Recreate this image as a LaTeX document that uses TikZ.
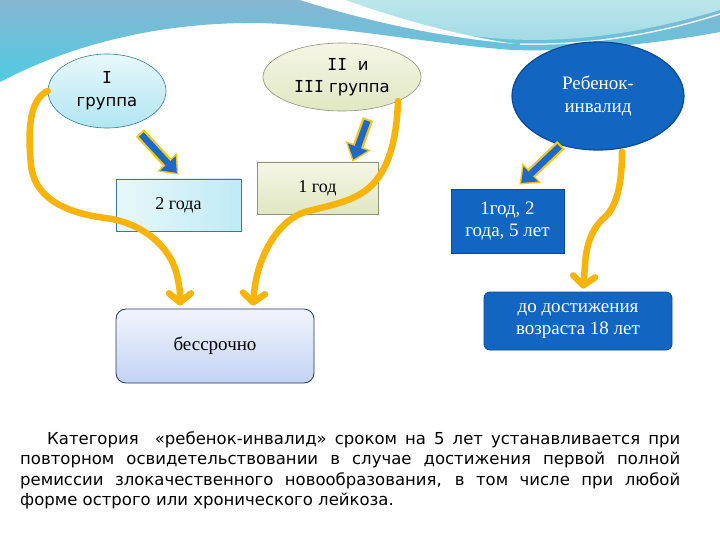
\documentclass[tikz,border=0pt]{standalone}
\usepackage{fontspec}
\setmainfont{Liberation Serif}
\newfontfamily\cfam{DejaVu Sans}
\newfontfamily\mfam{DejaVu Sans Mono}
\usetikzlibrary{shapes.geometric,arrows.meta,calc}
\definecolor{bandtop}{HTML}{86B6D2}
\definecolor{bandbot}{HTML}{4FCBE2}
\definecolor{bulgetop}{HTML}{BBE7EC}
\definecolor{bulgebot}{HTML}{A0D9E4}
\definecolor{gold}{HTML}{F7B40A}
\definecolor{arrblue}{HTML}{1E68C8}
\definecolor{arrgold}{HTML}{F6C61A}
\definecolor{dblue}{HTML}{1266C1}
\definecolor{dblueline}{HTML}{0B4A94}
\definecolor{cyanline}{HTML}{2F7F98}
\definecolor{cyantop}{HTML}{E8F8FB}
\definecolor{cyanbot}{HTML}{B0E5F2}
\definecolor{olivetop}{HTML}{F5F6E6}
\definecolor{olivebot}{HTML}{E0E7C2}
\definecolor{oliveline}{HTML}{8E9276}
\definecolor{lavtop}{HTML}{F1F4FC}
\definecolor{lavbot}{HTML}{C3D3F4}
\definecolor{navyline}{HTML}{26385A}
\begin{document}
\begin{tikzpicture}[x=1pt,y=-1pt,
  ellI/.style={ellipse, draw=cyanline, line width=0.6pt, top color=cyantop, bottom color=cyanbot,
    minimum width=118pt, minimum height=74pt, inner sep=0pt, align=center,
    font=\cfam\fontsize{16.5}{23}\selectfont},
  ellII/.style={ellipse, draw=oliveline, line width=0.6pt, top color=olivetop, bottom color=olivebot,
    minimum width=158pt, minimum height=68pt, inner sep=0pt, align=center,
    font=\cfam\fontsize{16.5}{22}\selectfont},
  ellR/.style={ellipse, draw=dblueline, line width=1.2pt, fill=dblue,
    minimum width=172pt, minimum height=108pt, inner sep=0pt, align=center, text=white,
    font=\fontsize{19}{23}\selectfont},
  boxcyan/.style={rectangle, draw=cyanline, line width=0.6pt, left color=cyantop, right color=cyanbot!80,
    minimum width=125pt, minimum height=52pt, inner sep=0pt, font=\fontsize{18}{21}\selectfont},
  boxolive/.style={rectangle, draw=oliveline, line width=0.6pt, top color=olivetop, bottom color=olivebot,
    minimum width=121pt, minimum height=52pt, inner sep=0pt, font=\fontsize{18}{21}\selectfont},
  boxblue/.style={rectangle, draw=dblueline, line width=0.8pt, fill=dblue, text=white, align=center,
    inner sep=0pt, font=\fontsize{19}{22}\selectfont},
  boxlav/.style={rectangle, rounded corners=10pt, draw=navyline, line width=0.8pt, top color=lavtop, bottom color=lavbot,
    minimum width=198pt, minimum height=74pt, inner sep=0pt, font=\fontsize{19}{22}\selectfont},
  para/.style={inner sep=0pt, align=left, font=\cfam\fontsize{16.5}{20.6}\selectfont},
  blockback/.style={draw=arrgold, line width=11pt, -{Triangle[length=17pt,width=27pt,line width=0pt]}},
  blockfront/.style={draw=arrblue, line width=6.5pt, shorten >=2.5pt, shorten <=2pt,
    -{Triangle[length=13pt,width=21pt,line width=0pt]}},
  conn/.style={draw=gold, line width=6.5pt, line cap=round, line join=round,
    -{Straight Barb[length=9pt,width=22pt,round]}}
]
\useasboundingbox (0,0) rectangle (720,540);
\fill[white] (0,0) rectangle (720,540);
% banner
\shade[top color=bandtop, bottom color=bandbot]
  (0,0) -- (720,0) -- (720,32) .. controls (650,45) and (570,52) .. (513,50)
  .. controls (440,45) and (330,25) .. (260,23) .. controls (170,22) and (80,40) .. (0,82) -- cycle;
\shade[top color=bulgetop, bottom color=bulgebot]
  (330,0) .. controls (380,20) and (440,35) .. (505,39) .. controls (585,44) and (660,28) .. (720,10) -- (720,0) -- cycle;
\fill[white] (300,0) .. controls (380,25) and (450,38) .. (515,44) .. controls (450,34) and (390,16) .. (345,0) -- cycle;
\draw[white, line width=1.5pt, opacity=0.8] (520,44) .. controls (600,46) and (670,30) .. (720,14);

% nodes
\node[ellI] (g1) at (107,91) {{\mfam I}\\группа};
\node[ellII] (g2) at (342,77) {\hspace*{12pt}{\mfam II}\ \ и\\{\mfam III} группа};
\node[ellR] (rb) at (598,96) {Ребенок-\\инвалид};
\node[boxcyan] (y2) at (178.5,205) {2 года};
\node[boxolive] (y1) at (317.5,188) {1 год};
\node[boxblue, minimum width=113pt, minimum height=64pt] (y125) at (507.5,221) {1год, 2\\года, 5 лет};
\node[boxblue, rounded corners=6pt, minimum width=188pt, minimum height=58pt] (d18) at (578,321) {до достижения\\возраста 18 лет};
\node[boxlav] (bs) at (215,346) {бессрочно};

\node[para, anchor=north west] (txt) at (20,431) {\hspace*{27pt}\makebox[633pt][s]{Категория\ \ «ребенок-инвалид» сроком на 5 лет устанавливается при}\\
\makebox[660pt][s]{повторном освидетельствовании в случае достижения первой полной}\\
\makebox[660pt][s]{ремиссии злокачественного новообразования, в том числе при любой}\\
форме острого или хронического лейкоза.};

% block arrows
\coordinate (b1s) at ($(g1.center)+(33,42)$);
\coordinate (b1e) at ($(y2.north)+(0,-4)$);
\coordinate (b2s) at ($(g2.center)+(26,42)$);
\coordinate (b2e) at ($(y1.north)+(35,0)$);
\coordinate (b3s) at ($(rb.center)+(-37,49)$);
\coordinate (b3e) at ($(y125.north)+(12,-4)$);
\foreach \s/\e in {b1s/b1e, b2s/b2e, b3s/b3e}{
  \draw[blockback] (\s) -- (\e);
  \draw[blockfront] (\s) -- (\e);
}

% yellow connectors
\coordinate (c1) at ($(bs.north)+(-35,-3)$);
\coordinate (s2) at ($(g2.center)+(56,24)$);
\coordinate (c2) at ($(bs.north)+(38,-3)$);
\coordinate (s3) at ($(rb.south)+(24,1)$);
\coordinate (c3) at ($(d18.north)+(5,-3)$);
\draw[conn] (g1.west) .. controls (28,100) and (28,135) .. (31,165)
  .. controls (34,195) and (60,212) .. (105,218)
  .. controls (140,222) and (170,245) .. (177,275)
  .. controls (180,290) .. (c1);
\draw[conn] (s2) .. controls (397,130) and (392,165) .. (372,185)
  .. controls (355,202) and (330,205) .. (305,212)
  .. controls (280,220) and (262,250) .. (256,280)
  .. controls (254,292) .. (c2);
\draw[conn] (s3) .. controls (622,180) and (618,205) .. (605,217)
  .. controls (592,228) and (586,245) .. (585,265)
  .. controls (584,278) .. (c3);
\end{tikzpicture}
\end{document}
